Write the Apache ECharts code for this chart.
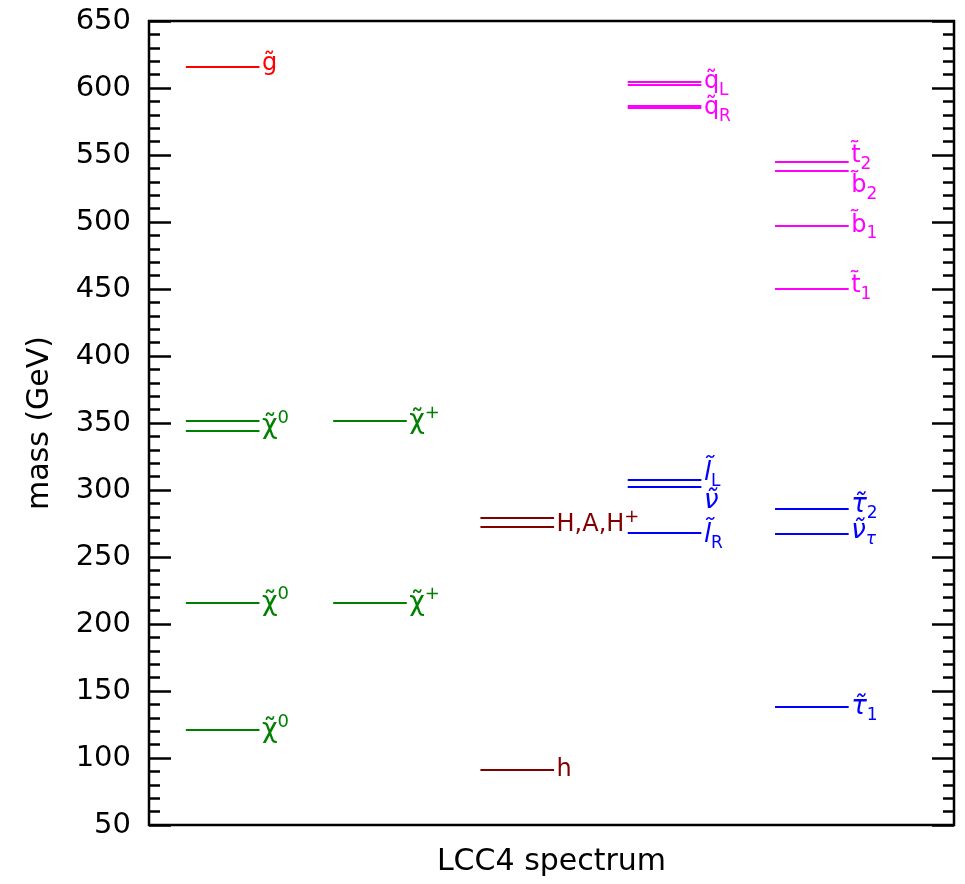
<!DOCTYPE html>
<html>
<head>
<meta charset="utf-8">
<script src="https://cdn.jsdelivr.net/npm/echarts@6/dist/echarts.min.js"></script>
<style>
  html, body { margin: 0; padding: 0; background: #fff; }
  #chart { width: 965px; height: 884px; }
</style>
</head>
<body>
<div id="chart"></div>
<script>
// Sparticle and Higgs mass levels (GeV), one array per family
const gluinoMass          = [616];
const neutralinoMass      = [352, 344, 216, 121];
const charginoMass        = [352, 216];
const higgsMass           = [279.5, 272.5, 91];
const squarkMass          = [604.5, 602.5, 586.5, 585.5];
const sleptonMass         = [308, 302.5, 268];
const thirdGenSquarkMass  = [545, 538, 497.5, 450];
const thirdGenSleptonMass = [286, 267, 138];

// Level names (rich-text markup), parallel to the mass arrays; '' = unlabelled
const T = '\u0303'; // combining tilde
const gluinoNames          = ['{m|g' + T + '}'];
const neutralinoNames      = ['', '{g|\u03c7' + T + '}{p|0}', '{g|\u03c7' + T + '}{p|0}', '{g|\u03c7' + T + '}{p|0}'];
const charginoNames        = ['{g|\u03c7' + T + '}{p|+}', '{g|\u03c7' + T + '}{p|+}'];
const higgsNames           = ['', '{m|H,A,H}{p|+}', '{m|h}'];
const squarkNames          = ['', '{m|q' + T + '}{s|L}', '{m|q' + T + '}{s|R}', ''];
const sleptonNames         = ['{i|l' + T + '}{s|L}', '{i|\u03bd' + T + '}', '{i|l' + T + '}{s|R}'];
const thirdGenSquarkNames  = ['{m|t' + T + '}{s|2}', '{m|b' + T + '}{s|2}', '{m|b' + T + '}{s|1}', '{m|t' + T + '}{s|1}'];
const thirdGenSleptonNames = ['{i|\u03c4' + T + '}{s|2}', '{i|\u03bd' + T + '}{si|\u03c4}', '{i|\u03c4' + T + '}{s|1}'];

// Axis range
const massMin = 50, massMax = 650, massStep = 50;

// ---- layout / style ----
const columnStart = [0.5, 2.5, 4.5, 6.5, 8.5];   // left end of each column (x units)
const levelLength = 1;
const xMax = 10.93;
const FONT = 'DejaVu Sans';

// vertical nudges (px) for the name labels, parallel to the name arrays
const gluinoNudge          = [-3];
const neutralinoNudge      = [0, -5, 0, 0];
const charginoNudge        = [1, 0];
const higgsNudge           = [0, -2, 0];
const squarkNudge          = [0, -3, 2, 0];
const sleptonNudge         = [-6, 15, 2];
const thirdGenSquarkNudge  = [-6, 15, 0, -3];
const thirdGenSleptonNudge = [-4, -3, 0];

const families = [
  { col: 0, masses: gluinoMass,          names: gluinoNames,          nudge: gluinoNudge,          color: '#ff0000' },
  { col: 0, masses: neutralinoMass,      names: neutralinoNames,      nudge: neutralinoNudge,      color: '#008000' },
  { col: 1, masses: charginoMass,        names: charginoNames,        nudge: charginoNudge,        color: '#008000' },
  { col: 2, masses: higgsMass,           names: higgsNames,           nudge: higgsNudge,           color: '#800000' },
  { col: 3, masses: squarkMass,          names: squarkNames,          nudge: squarkNudge,          color: '#ff00ff' },
  { col: 3, masses: sleptonMass,         names: sleptonNames,         nudge: sleptonNudge,         color: '#0000ff' },
  { col: 4, masses: thirdGenSquarkMass,  names: thirdGenSquarkNames,  nudge: thirdGenSquarkNudge,  color: '#ff00ff' },
  { col: 4, masses: thirdGenSleptonMass, names: thirdGenSleptonNames, nudge: thirdGenSleptonNudge, color: '#0000ff' }
];

function richFor(color) {
  return {
    m:  { fontFamily: FONT, fontSize: 24, color: color, lineHeight: 34 },
    g:  { fontFamily: FONT, fontSize: 27, color: color, lineHeight: 34 },
    i:  { fontFamily: FONT, fontSize: 26, color: color, lineHeight: 34, fontStyle: 'italic' },
    s:  { fontFamily: FONT, fontSize: 17, color: color, lineHeight: 17, verticalAlign: 'bottom' },
    si: { fontFamily: FONT, fontSize: 17, color: color, lineHeight: 17, verticalAlign: 'bottom', fontStyle: 'italic' },
    p:  { fontFamily: FONT, fontSize: 18, color: color, lineHeight: 18, verticalAlign: 'top' }
  };
}

const series = [];
families.forEach(function (f) {
  const x0 = columnStart[f.col], x1 = x0 + levelLength;
  series.push({
    type: 'lines',
    coordinateSystem: 'cartesian2d',
    polyline: false,
    silent: true,
    lineStyle: { color: f.color, width: 2, opacity: 1 },
    data: f.masses.map(function (m) { return { coords: [[x0, m], [x1, m]] }; })
  });
  const labelled = [];
  f.masses.forEach(function (m, k) {
    if (!f.names[k]) return;
    labelled.push({
      value: [x1, m],
      label: { show: true, position: 'right', distance: 2, formatter: f.names[k], offset: [0, f.nudge[k]] }
    });
  });
  series.push({
    type: 'scatter',
    silent: true,
    symbol: 'circle',
    symbolSize: 1,
    itemStyle: { color: 'rgba(255,255,255,0)', opacity: 1 },
    label: {
      show: true,
      position: 'right',
      distance: 2,
      rich: richFor(f.color)
    },
    data: labelled
  });
});

function massAxis(side) {
  const left = side === 'left';
  return {
    type: 'value',
    position: side,
    min: massMin,
    max: massMax,
    interval: massStep,
    axisLine: { show: true, lineStyle: { color: '#000', width: 2 } },
    axisTick: { show: true, inside: true, length: 22, lineStyle: { color: '#000', width: 2.5 } },
    minorTick: { show: true, splitNumber: 5, length: 11, lineStyle: { color: '#000', width: 2.5 } },
    splitLine: { show: false },
    minorSplitLine: { show: false },
    axisLabel: { show: left, fontFamily: FONT, fontSize: 29, color: '#000', margin: 18 },
    name: left ? 'mass (GeV)' : '',
    nameLocation: 'middle',
    nameGap: 94,
    nameTextStyle: { fontFamily: FONT, fontSize: 30, color: '#000' }
  };
}

const chart = echarts.init(document.getElementById('chart'), null, { renderer: 'canvas' });
chart.setOption({
  animation: false,
  backgroundColor: '#fff',
  grid: { left: 149, right: 11, top: 21, bottom: 59, show: true, borderColor: '#000', borderWidth: 2.5, backgroundColor: 'transparent' },
  xAxis: {
    type: 'value',
    min: 0,
    max: xMax,
    axisLine: { show: false },
    axisTick: { show: false },
    axisLabel: { show: false },
    splitLine: { show: false },
    name: 'LCC4 spectrum',
    nameLocation: 'middle',
    nameGap: 22,
    nameTextStyle: { fontFamily: FONT, fontSize: 30, color: '#000' }
  },
  yAxis: [massAxis('left'), massAxis('right')],
  series: series
});
</script>
</body>
</html>
